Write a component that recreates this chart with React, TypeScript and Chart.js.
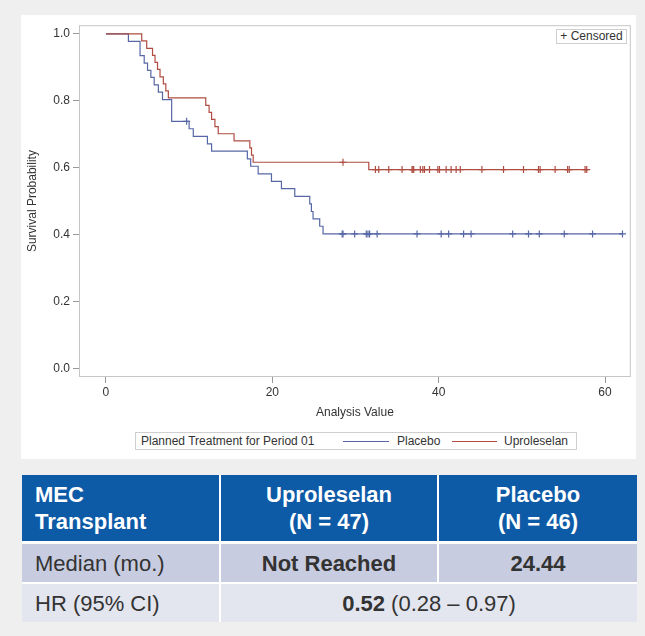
import React, { useEffect, useRef } from 'react';
import { Chart, registerables } from 'chart.js';

Chart.register(...registerables);

const FONT = '"Liberation Sans", Arial, Helvetica, sans-serif';
const TEXT = '#333333';
const BLUE = '#5767a6';
const RED = '#b04c41';

// Uproleselan Kaplan-Meier step curve (time in months, survival probability)
const uproTimes = [0, 4.3, 4.9, 5.6, 5.9, 6.2, 6.5, 6.9, 7.2, 7.5, 12.0, 12.4, 12.7, 13.1, 13.5, 15.4, 17.3, 17.5, 17.7, 31.6, 57.8];
const uproSurv = [1.0, 0.979, 0.957, 0.936, 0.915, 0.894, 0.872, 0.851, 0.83, 0.809, 0.787, 0.766, 0.745, 0.723, 0.702, 0.681, 0.66, 0.638, 0.617, 0.595, 0.595];
const uproCensored = [28.5, 32.4, 32.8, 34.0, 35.6, 36.8, 36.9, 37.0, 37.8, 38.1, 38.3, 38.9, 39.9, 40.1, 40.9, 41.5, 42.1, 42.6, 45.2, 47.8, 50.2, 52.0, 52.2, 54.0, 55.5, 55.7, 57.6, 57.8];

// Placebo Kaplan-Meier step curve
const placeboTimes = [0, 2.7, 4.1, 4.6, 5.0, 5.4, 5.8, 6.3, 6.8, 7.9, 10.0, 10.5, 12.2, 12.7, 17.0, 17.4, 18.3, 19.9, 21.1, 22.7, 24.5, 24.7, 24.9, 25.7, 26.1, 62.1];
const placeboSurv = [1.0, 0.978, 0.935, 0.913, 0.891, 0.87, 0.848, 0.826, 0.804, 0.739, 0.717, 0.694, 0.672, 0.65, 0.627, 0.605, 0.582, 0.56, 0.538, 0.515, 0.493, 0.47, 0.448, 0.426, 0.403, 0.403];
const placeboCensored = [9.7, 28.4, 28.5, 29.9, 31.3, 31.5, 31.7, 32.6, 37.4, 40.3, 41.2, 43.0, 43.9, 48.9, 50.8, 52.1, 55.1, 58.5, 62.1];

const yTicks = [0, 0.2, 0.4, 0.6, 0.8, 1.0];
const xTicks = [0, 20, 40, 60];

const levelAt = (times: number[], surv: number[], t: number) => {
  let v = surv[0];
  for (let i = 0; i < times.length; i++) {
    if (times[i] <= t) v = surv[i];
  }
  return v;
};

const curve = (times: number[], surv: number[]) => times.map((t, i) => ({ x: t, y: surv[i] }));
const marks = (cens: number[], times: number[], surv: number[]) =>
  cens.map((t) => ({ x: t, y: levelAt(times, surv, t) }));

const framePlugin = {
  id: 'frame',
  beforeDatasetsDraw(chart: any) {
    const { ctx, chartArea: a } = chart;
    ctx.save();
    ctx.strokeStyle = '#c6c6c6';
    ctx.lineWidth = 1;
    ctx.strokeRect(a.left + 0.5, a.top + 0.5, a.right - a.left - 1, a.bottom - a.top - 1);
    ctx.restore();
  },
};

function KMChart() {
  const ref = useRef<HTMLCanvasElement | null>(null);
  useEffect(() => {
    if (!ref.current) return;
    const chart = new Chart(ref.current, {
      type: 'scatter',
      data: {
        datasets: [
          {
            label: 'Uproleselan',
            data: curve(uproTimes, uproSurv),
            showLine: true,
            stepped: 'before',
            borderColor: RED,
            borderWidth: 1.2,
            pointRadius: 0,
          },
          {
            label: 'Placebo',
            data: curve(placeboTimes, placeboSurv),
            showLine: true,
            stepped: 'before',
            borderColor: BLUE,
            borderWidth: 1.2,
            pointRadius: 0,
          },
          {
            label: 'Uproleselan censored',
            data: marks(uproCensored, uproTimes, uproSurv),
            showLine: false,
            pointStyle: 'cross',
            pointRadius: 3.5,
            borderColor: RED,
            borderWidth: 1.2,
          },
          {
            label: 'Placebo censored',
            data: marks(placeboCensored, placeboTimes, placeboSurv),
            showLine: false,
            pointStyle: 'cross',
            pointRadius: 3.5,
            borderColor: BLUE,
            borderWidth: 1.2,
          },
        ],
      } as any,
      options: {
        animation: false,
        responsive: false,
        maintainAspectRatio: false,
        layout: { padding: { top: 8, right: 4, left: 0, bottom: 0 } },
        plugins: { legend: { display: false }, tooltip: { enabled: false } },
        scales: {
          x: {
            type: 'linear',
            min: -3.24,
            max: 63.1,
            afterFit: (s: any) => {
              s.height = 48;
            },
            afterBuildTicks: (s: any) => {
              s.ticks = xTicks.map((v) => ({ value: v }));
            },
            ticks: {
              padding: 2,
              color: TEXT,
              font: { size: 12, family: FONT },
              maxRotation: 0,
              autoSkip: false,
            },
            grid: { drawOnChartArea: false, drawTicks: true, tickLength: 6, color: '#9a9a9a' },
            border: { display: false },
            title: {
              display: true,
              text: 'Analysis Value',
              color: TEXT,
              font: { size: 12, family: FONT },
              padding: { top: 6, bottom: 5 },
            },
          },
          y: {
            type: 'linear',
            min: -0.024,
            max: 1.026,
            afterFit: (s: any) => {
              s.width = 58;
            },
            afterBuildTicks: (s: any) => {
              s.ticks = yTicks.map((v) => ({ value: v }));
            },
            ticks: {
              padding: 3,
              color: TEXT,
              font: { size: 12, family: FONT },
              callback: (v: any) => Number(v).toFixed(1),
            },
            grid: { drawOnChartArea: false, drawTicks: true, tickLength: 6, color: '#9a9a9a' },
            border: { display: false },
            title: {
              display: true,
              text: 'Survival Probability',
              color: TEXT,
              font: { size: 12, family: FONT },
              padding: { top: 4, bottom: 0 },
            },
          },
        },
      } as any,
      plugins: [framePlugin],
    });
    return () => chart.destroy();
  }, []);
  return <canvas ref={ref} width={615} height={410} style={{ position: 'absolute', left: 21, top: 15, width: 615, height: 410 }} />;
}

const cell = (extra: React.CSSProperties): React.CSSProperties => ({
  position: 'absolute',
  boxSizing: 'border-box',
  display: 'flex',
  alignItems: 'center',
  fontFamily: FONT,
  fontSize: 22,
  lineHeight: '27px',
  ...extra,
});

export default function App() {
  const HDR = '#0d5aa7';
  const R1 = '#c8cce0';
  const R2 = '#e3e5ef';
  return (
    <div style={{ position: 'absolute', left: 0, top: 0, width: 645, height: 636, background: '#efefef', overflow: 'hidden' }}>
      <div style={{ position: 'absolute', left: 21, top: 15, width: 615, height: 444, background: '#ffffff' }} />
      <KMChart />
      <div
        style={{
          position: 'absolute',
          left: 556,
          top: 29,
          width: 71,
          height: 15,
          boxSizing: 'border-box',
          border: '1px solid #cfcfcf',
          background: '#fff',
          fontFamily: FONT,
          fontSize: 12,
          lineHeight: '13px',
          color: TEXT,
          textAlign: 'center',
          whiteSpace: 'nowrap',
        }}
      >
        + Censored
      </div>
      <div
        style={{
          position: 'absolute',
          left: 135,
          top: 432,
          width: 442,
          height: 18,
          boxSizing: 'border-box',
          border: '1px solid #cfcfcf',
          background: '#fff',
          fontFamily: FONT,
          fontSize: 12,
          color: TEXT,
          whiteSpace: 'nowrap',
        }}
      >
        <span style={{ position: 'absolute', left: 5, top: 1, lineHeight: '15px' }}>Planned Treatment for Period 01</span>
        <span style={{ position: 'absolute', left: 207, top: 8, width: 46, height: 0, borderTop: `1px solid ${BLUE}` }} />
        <span style={{ position: 'absolute', left: 261, top: 1, lineHeight: '15px' }}>Placebo</span>
        <span style={{ position: 'absolute', left: 316, top: 8, width: 45, height: 0, borderTop: `1px solid ${RED}` }} />
        <span style={{ position: 'absolute', left: 368, top: 1, lineHeight: '15px' }}>Uproleselan</span>
      </div>

      <div style={{ position: 'absolute', left: 22, top: 475, width: 615, height: 147, background: '#ffffff' }}>
        <div style={cell({ left: 0, top: 0, width: 197, height: 66, background: HDR, color: '#fff', fontWeight: 'bold', paddingLeft: 13 })}>
          <div>
            MEC
            <br />
            Transplant
          </div>
        </div>
        <div style={cell({ left: 199, top: 0, width: 216, height: 66, background: HDR, color: '#fff', fontWeight: 'bold', justifyContent: 'center', textAlign: 'center' })}>
          <div>
            Uproleselan
            <br />
            (N = 47)
          </div>
        </div>
        <div style={cell({ left: 417, top: 0, width: 198, height: 66, background: HDR, color: '#fff', fontWeight: 'bold', justifyContent: 'center', textAlign: 'center' })}>
          <div>
            Placebo
            <br />
            (N = 46)
          </div>
        </div>

        <div style={cell({ left: 0, top: 69, width: 197, height: 38, background: R1, color: TEXT, paddingLeft: 13 })}>Median (mo.)</div>
        <div style={cell({ left: 199, top: 69, width: 216, height: 38, background: R1, color: TEXT, fontWeight: 'bold', justifyContent: 'center' })}>Not Reached</div>
        <div style={cell({ left: 417, top: 69, width: 198, height: 38, background: R1, color: TEXT, fontWeight: 'bold', justifyContent: 'center' })}>24.44</div>

        <div style={cell({ left: 0, top: 109, width: 197, height: 38, background: R2, color: TEXT, paddingLeft: 13 })}>HR (95% CI)</div>
        <div style={cell({ left: 199, top: 109, width: 416, height: 38, background: R2, color: TEXT, justifyContent: 'center', whiteSpace: 'pre' })}>
          <b>0.52</b> (0.28 – 0.97)
        </div>
      </div>
    </div>
  );
}
